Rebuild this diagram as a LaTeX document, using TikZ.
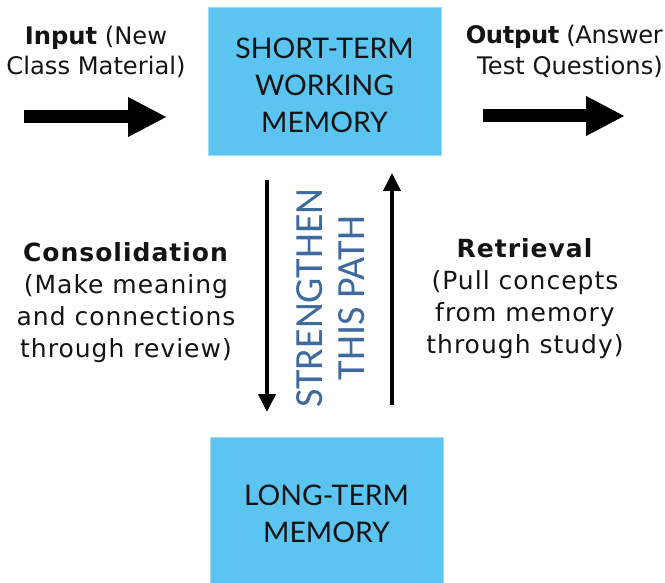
\documentclass[tikz,border=0pt]{standalone}
\usepackage{fontspec}
\setmainfont{DejaVu Sans}
\newfontfamily\latofont{Lato}
\newfontfamily\carlfont{Carlito}
\newfontfamily\widefont[LetterSpace=4]{DejaVu Sans}
\usetikzlibrary{arrows.meta}
\definecolor{boxblue}{RGB}{91,196,241}
\definecolor{pathblue}{RGB}{62,106,160}
\definecolor{txt}{RGB}{20,20,20}
\begin{document}
\begin{tikzpicture}[x=1pt,y=-1pt,
  membox/.style={fill=boxblue, draw=boxblue!60!white, line width=0.8pt, minimum width=233pt, align=center, text=txt, font=\latofont\fontsize{28.4}{37}\selectfont, inner sep=0pt},
  toplbl/.style={align=center, text=txt, font=\fontsize{24.2}{29.5}\selectfont, inner sep=0pt},
  midlbl/.style={align=center, text=txt, font=\widefont\fontsize{25}{32}\selectfont, inner sep=0pt},
  bigarrow/.style={line width=13pt, -{Triangle[width=37pt,length=39pt]}},
  thinarrow/.style={line width=3.8pt, -{Triangle[width=17pt,length=18pt]}},
]
\useasboundingbox (0,0) rectangle (665,583);
\node[membox, minimum height=148pt] (stm) at (324.5,81) {};
\node[align=center, text=txt, font=\latofont\fontsize{28.4}{37}\selectfont, inner sep=0pt] (stmtext) at (324.5,85) {SHORT-TERM\\WORKING\\MEMORY};
\node[membox, minimum height=146pt] (ltm) at (326.5,510) {};
\node[align=center, text=txt, font=\latofont\fontsize{28.4}{37}\selectfont, inner sep=0pt] (ltmtext) at (326.5,513.5) {LONG-TERM\\MEMORY};
\node[toplbl] (inlbl) at (96,52) {\textbf{Input} (New\\Class Material)};
\node[toplbl, anchor=east] (outlbl1) at (663,37) {\addfontfeature{LetterSpace=-1.5}\textbf{Output} (Answer};
\node[toplbl] (outlbl2) at (570,66.5) {Test Questions)};
\coordinate (inA) at (24,117);
\coordinate (inB) at (167,117);
\draw[bigarrow] (inA) -- (inB);
\coordinate (outA) at (483,116);
\coordinate (outB) at (625,116);
\draw[bigarrow] (outA) -- (outB);
\coordinate (dA) at (267,180);
\coordinate (dB) at (267,412);
\draw[thinarrow] (dA) -- (dB);
\coordinate (uA) at (392,405);
\coordinate (uB) at (392,173);
\draw[thinarrow] (uA) -- (uB);
\node[rotate=90, align=center, font=\carlfont\fontsize{40}{42}\selectfont, text=pathblue, inner sep=0pt] (path) at (331,298) {STRENGTHEN\\THIS PATH};
\node[midlbl] (cons) at (126,303) {\textbf{Consolidation}\\(Make meaning\\and connections\\through review)};
\node[midlbl] (retr) at (525,299) {\textbf{Retrieval}\\(Pull concepts\\from memory\\through study)};
\end{tikzpicture}
\end{document}
